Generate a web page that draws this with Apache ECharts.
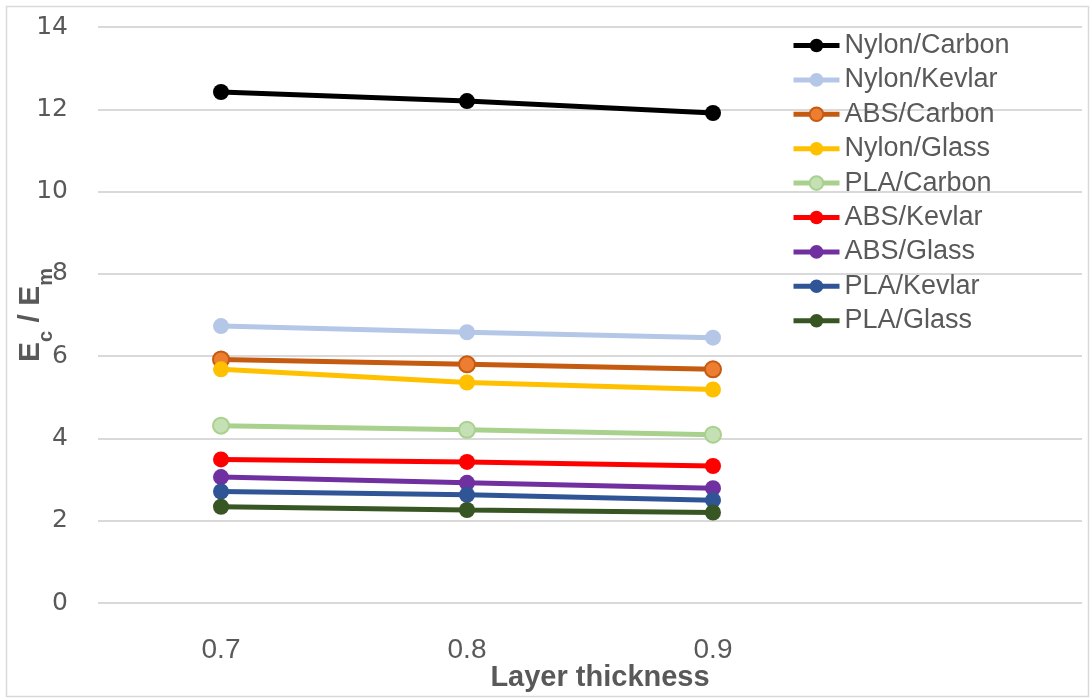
<!DOCTYPE html>
<html>
<head>
<meta charset="utf-8">
<script src="https://cdn.jsdelivr.net/npm/echarts@6/dist/echarts.min.js"></script>
<style>
  html, body { margin: 0; padding: 0; background: #fff; }
  #chart { width: 1090px; height: 698px; }
</style>
</head>
<body>
<div id="chart"></div>
<script>
const categories = ["0.7", "0.8", "0.9", ""];

const nylonCarbon = [12.42, 12.2, 11.91];
const nylonKevlar = [6.73, 6.58, 6.45];
const absCarbon = [5.92, 5.8, 5.68];
const nylonGlass = [5.68, 5.36, 5.19];
const plaCarbon = [4.31, 4.21, 4.09];
const absKevlar = [3.49, 3.43, 3.33];
const absGlass = [3.06, 2.92, 2.79];
const plaKevlar = [2.71, 2.63, 2.5];
const plaGlass = [2.34, 2.26, 2.2];

const seriesDefs = [
  { name: "Nylon/Carbon", data: nylonCarbon, line: "#000000", fill: "#000000" },
  { name: "Nylon/Kevlar", data: nylonKevlar, line: "#B4C7E7", fill: "#B4C7E7" },
  { name: "ABS/Carbon", data: absCarbon, line: "#C55A11", fill: "#ED7D31" },
  { name: "Nylon/Glass", data: nylonGlass, line: "#FFC000", fill: "#FFC000" },
  { name: "PLA/Carbon", data: plaCarbon, line: "#A9D18E", fill: "#C5E0B4" },
  { name: "ABS/Kevlar", data: absKevlar, line: "#FF0000", fill: "#FF0000" },
  { name: "ABS/Glass", data: absGlass, line: "#7030A0", fill: "#7030A0" },
  { name: "PLA/Kevlar", data: plaKevlar, line: "#2F5597", fill: "#2F5597" },
  { name: "PLA/Glass", data: plaGlass, line: "#375623", fill: "#375623" },
];

const chart = echarts.init(document.getElementById("chart"), null, { renderer: "canvas" });

chart.setOption({
  backgroundColor: "#ffffff",
  animation: false,
  graphic: [
    {
      type: "rect",
      shape: { x: 6.5, y: 6.5, width: 1082, height: 690 },
      style: { fill: "none", stroke: "#D9D9D9", lineWidth: 1.5 },
      silent: true,
    },
  ],
  grid: {
    left: 98,
    right: 8,
    top: 27,
    bottom: 95,
    containLabel: false,
    outerBoundsMode: "none",
  },
  legend: {
    orient: "vertical",
    left: 786,
    top: 27,
    itemWidth: 46,
    itemHeight: 17,
    itemGap: 7.4,
    lineStyle: { width: 5 },
    textStyle: {
      fontFamily: "Liberation Sans",
      fontSize: 27,
      color: "#595959",
    },
    data: seriesDefs.map((s) => s.name),
  },
  xAxis: {
    type: "category",
    data: categories,
    boundaryGap: true,
    axisLine: { show: false },
    axisTick: { show: false },
    axisLabel: {
      fontFamily: "Liberation Sans",
      fontSize: 28,
      color: "#595959",
      margin: 33,
      interval: 0,
    },
    name: "Layer thickness",
    nameLocation: "middle",
    nameGap: 60,
    nameMoveOverlap: false,
    nameTextStyle: {
      fontFamily: "Liberation Sans",
      fontWeight: "bold",
      fontSize: 29,
      color: "#595959",
      padding: [0, 0, 0, 20],
    },
  },
  yAxis: {
    type: "value",
    min: 0,
    max: 14,
    interval: 2,
    axisLine: { show: false },
    axisTick: { show: false },
    splitLine: { lineStyle: { color: "#D9D9D9", width: 2 } },
    axisLabel: {
      fontFamily: "DejaVu Sans",
      fontSize: 25,
      color: "#595959",
      margin: 30,
    },
    name: "{b|E}{s|c}{b| / E}{s|m}",
    nameLocation: "middle",
    nameRotate: 90,
    nameGap: 52,
    nameMoveOverlap: false,
    nameTextStyle: {
      color: "#595959",
      rich: {
        b: {
          fontFamily: "Liberation Sans",
          fontWeight: "bold",
          fontSize: 30,
          color: "#595959",
          lineHeight: 34,
          verticalAlign: "bottom",
        },
        s: {
          fontFamily: "Liberation Sans",
          fontWeight: "bold",
          fontSize: 20,
          color: "#595959",
          lineHeight: 34,
          verticalAlign: "bottom",
          padding: [0, 0, -10, 0],
        },
      },
    },
  },
  series: seriesDefs.map((s) => ({
    name: s.name,
    type: "line",
    data: s.data,
    symbol: "circle",
    symbolSize: 16,
    lineStyle: { color: s.line, width: 5 },
    itemStyle: { color: s.fill, borderColor: s.line, borderWidth: s.fill === s.line ? 0 : 2 },
  })),
});
</script>
</body>
</html>
